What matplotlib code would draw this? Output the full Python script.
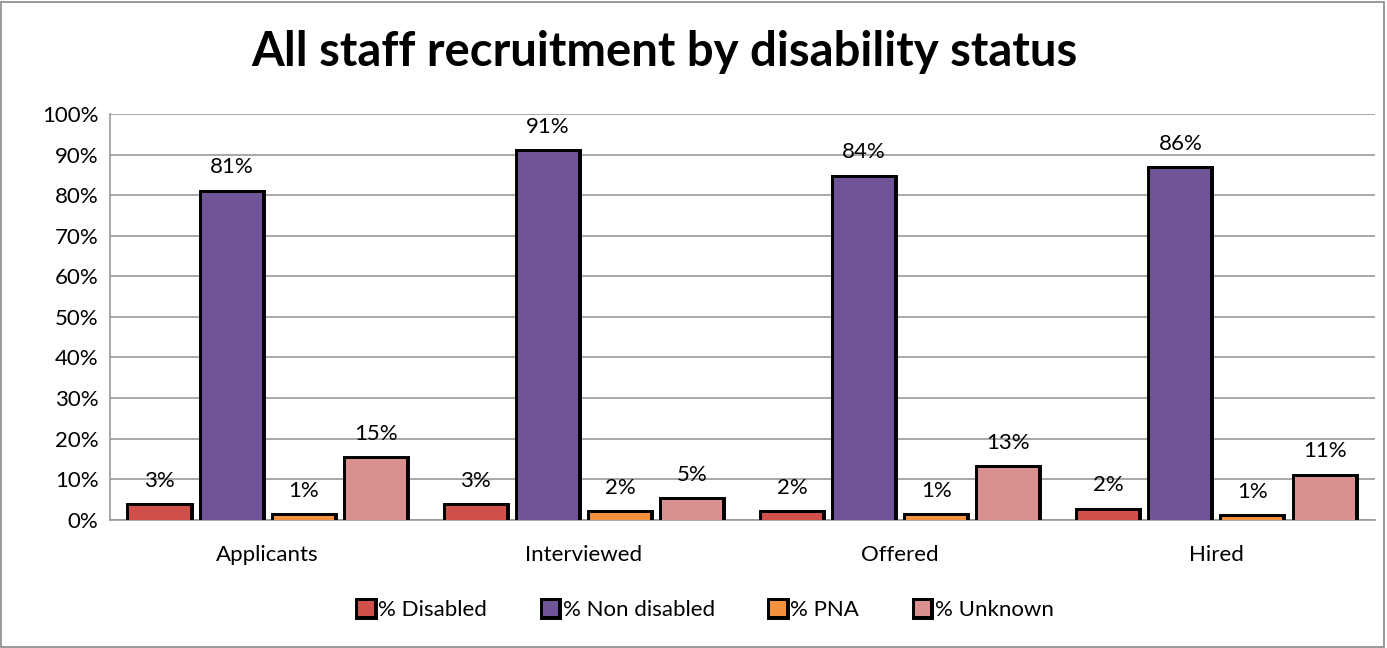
import numpy as np
import matplotlib
matplotlib.use("Agg")
import matplotlib.pyplot as plt
import matplotlib.patheffects as pe
from matplotlib.patches import Rectangle

plt.rcParams['font.family'] = ['Lato', 'DejaVu Sans']

stages = ["Applicants", "Interviewed", "Offered", "Hired"]
series = ["% Disabled", "% Non disabled", "% PNA", "% Unknown"]

disabled = [3.3, 3.4, 1.7, 2.2]
non_disabled = [80.6, 90.6, 84.3, 86.5]
pna = [0.8, 1.6, 0.8, 0.6]
unknown = [15.0, 4.8, 12.7, 10.6]

colors = ["#d0504a", "#6f5497", "#f3913c", "#d9908e"]
values = [disabled, non_disabled, pna, unknown]

fs = 16

fig = plt.figure(figsize=(13.87, 6.48), dpi=100)
fig.patches.append(Rectangle((0.001, 0.002), 0.997, 0.995, transform=fig.transFigure,
                             fill=False, edgecolor="#888888", linewidth=1.2))
ax = fig.add_axes([0.079, 0.198, 0.912, 0.626])

x = np.arange(len(stages))
step = 0.228
width = 0.19
for i, (name, vals, col) in enumerate(zip(series, values, colors)):
    pos = x + (i - 1.5) * step
    bars = ax.bar(pos, vals, width, color=col, label=name, zorder=3,
                  path_effects=[pe.withStroke(linewidth=5, foreground="black")])
    for b, v in zip(bars, vals):
        ax.annotate(f"{round(v)}%", (b.get_x() + b.get_width() / 2, v),
                    xytext=(0, 11), textcoords="offset points",
                    ha="center", va="bottom", fontsize=fs)

ax.set_ylim(0, 100)
ax.set_xlim(-0.5, 3.5)
ax.set_yticks(range(0, 101, 10))
ax.set_yticklabels([f"{t}%" for t in range(0, 101, 10)], fontsize=fs)
ax.set_xticks(x)
ax.set_xticklabels(stages, fontsize=fs)
ax.tick_params(axis="x", length=0, pad=18)
ax.tick_params(axis="y", length=0, pad=8)
ax.grid(axis="y", color="#999999", linewidth=1.2, zorder=0)
for s in ["top", "right"]:
    ax.spines[s].set_visible(False)
for s in ["left", "bottom"]:
    ax.spines[s].set_color("#999999")
    ax.spines[s].set_linewidth(1.2)

fig.text(0.479, 0.92, "All staff recruitment by disability status", fontsize=34,
         fontweight="bold", ha="center", va="center")

fig.legend(loc="center", bbox_to_anchor=(0.509, 0.058), ncol=4, frameon=False,
           fontsize=fs, handlelength=0.7, handleheight=0.7, columnspacing=2.5,
           handletextpad=0.2)

fig.savefig("out.png", dpi=100)
